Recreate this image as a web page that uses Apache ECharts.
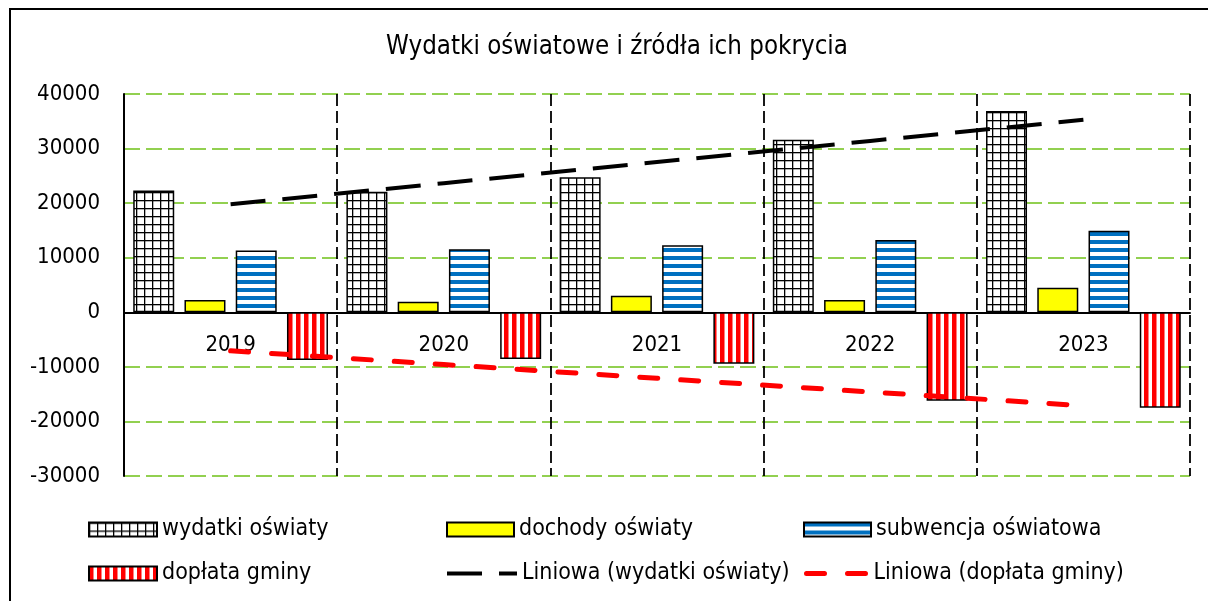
<!DOCTYPE html>
<html>
<head>
<meta charset="utf-8">
<script src="https://cdn.jsdelivr.net/npm/echarts@6/dist/echarts.min.js"></script>
<style>
  html, body { margin: 0; padding: 0; background: #fff; }
  #chart { width: 1208px; height: 601px; }
</style>
</head>
<body>
<div id="chart"></div>
<script>
// Education spending and its funding sources (thousands PLN)
const years = ['2019', '2020', '2021', '2022', '2023'];
const wydatki = [22300, 22100, 24750, 31600, 36900];
const dochody = [2250, 1950, 3050, 2250, 4500];
const subwencja = [11300, 11550, 12300, 13250, 14950];
const doplata = [-8750, -8550, -9450, -16200, -17500];

const FONT = '"DejaVu Sans Condensed", "DejaVu Sans", sans-serif';

// Least-squares linear trendline over category index (1..n)
function linearTrend(values) {
  const n = values.length;
  let sx = 0, sy = 0, sxx = 0, sxy = 0;
  values.forEach((v, i) => {
    const x = i + 1;
    sx += x; sy += v; sxx += x * x; sxy += x * v;
  });
  const b = (n * sxy - sx * sy) / (n * sxx - sx * sx);
  const a = (sy - b * sx) / n;
  return values.map((_, i) => Math.round(a + b * (i + 1)));
}

// Fill patterns for the bars
function makePattern(w, h, draw) {
  const c = document.createElement('canvas');
  c.width = w; c.height = h;
  const ctx = c.getContext('2d');
  ctx.fillStyle = '#ffffff';
  ctx.fillRect(0, 0, w, h);
  draw(ctx);
  return { image: c, repeat: 'repeat' };
}
const gridPattern = makePattern(8, 8, ctx => {
  ctx.fillStyle = '#000000';
  ctx.fillRect(0, 0, 8, 1.3);
  ctx.fillRect(0, 0, 1.3, 8);
});
const hStripePattern = makePattern(8, 8, ctx => {
  ctx.fillStyle = '#0070C0';
  ctx.fillRect(0, 0, 8, 4);
});
const vStripePattern = makePattern(8, 8, ctx => {
  ctx.fillStyle = '#FF0000';
  ctx.fillRect(0, 0, 4.5, 8);
});

const barBorder = { borderColor: '#000000', borderWidth: 1.5 };

const trendBlack = { color: '#000000', width: 4, type: [35, 17] };
const trendRed = { color: '#FF0000', width: 5, type: [18, 23], cap: 'round' };

function legendAt(name, left, top, width, lineStyle) {
  const lg = {
    data: [name],
    left: left,
    top: top,
    padding: 0,
    itemWidth: width,
    itemHeight: 14,
    selectedMode: false,
    textStyle: { fontFamily: FONT, fontSize: 23, color: '#000000' }
  };
  if (lineStyle) {
    lg.itemStyle = { opacity: 0 };
    lg.lineStyle = lineStyle;
  } else {
    lg.icon = 'rect';
  }
  return lg;
}

const chart = echarts.init(document.getElementById('chart'), null, { renderer: 'canvas' });
chart.setOption({
  backgroundColor: '#ffffff',
  animation: false,
  title: {
    text: 'Wydatki oświatowe i źródła ich pokrycia',
    left: 612,
    textAlign: 'center',
    top: 29,
    textStyle: { fontFamily: FONT, fontSize: 25.7, fontWeight: 'normal', color: '#000000' }
  },
  graphic: [{
    type: 'rect',
    shape: { x: 10, y: 9, width: 1240, height: 640 },
    style: { fill: 'none', stroke: '#000000', lineWidth: 2 },
    silent: true
  }],
  legend: [
    legendAt('wydatki oświaty', 88, 518, 68, null),
    legendAt('dochody oświaty', 446, 518, 67, null),
    legendAt('subwencja oświatowa', 803, 518, 67, null),
    legendAt('dopłata gminy', 88, 562, 68, null),
    legendAt('Liniowa (wydatki oświaty)', 445, 562, 70, trendBlack),
    legendAt('Liniowa (dopłata gminy)', 804, 562, 62, trendRed)
  ],
  grid: { left: 124, right: 18, top: 94, bottom: 125, containLabel: false },
  xAxis: [
    {
      type: 'category',
      data: years,
      boundaryGap: true,
      axisLine: { show: true, onZero: true, lineStyle: { color: '#000000', width: 2 } },
      axisTick: { show: false },
      axisLabel: { show: false },
      splitLine: { show: true, lineStyle: { color: '#000000', width: 1.8, type: [12, 5] } }
    },
    {
      // year labels sitting just under the zero line
      type: 'category',
      data: years,
      position: 'bottom',
      offset: -164,
      axisLine: { show: false, onZero: false },
      axisTick: { show: false },
      splitLine: { show: false },
      axisLabel: { margin: 22, fontFamily: FONT, fontSize: 22, color: '#000000' }
    }
  ],
  yAxis: {
    type: 'value',
    min: -30000,
    max: 40000,
    interval: 10000,
    axisLine: { show: true, lineStyle: { color: '#000000', width: 2 } },
    axisTick: { show: false },
    axisLabel: {
      margin: 24, fontFamily: FONT, fontSize: 22, color: '#000000',
      formatter: v => String(v)
    },
    splitLine: { show: true, lineStyle: { color: '#92D050', width: 2, type: [16, 6] } }
  },
  series: [
    {
      name: 'wydatki oświaty', type: 'bar', data: wydatki,
      barWidth: 41, barGap: '25%',
      itemStyle: Object.assign({ color: gridPattern }, barBorder)
    },
    {
      name: 'dochody oświaty', type: 'bar', data: dochody,
      barWidth: 41, barGap: '25%',
      itemStyle: Object.assign({ color: '#FFFF00' }, barBorder)
    },
    {
      name: 'subwencja oświatowa', type: 'bar', data: subwencja,
      barWidth: 41, barGap: '25%',
      itemStyle: Object.assign({ color: hStripePattern }, barBorder)
    },
    {
      name: 'dopłata gminy', type: 'bar', data: doplata,
      barWidth: 41, barGap: '25%',
      itemStyle: Object.assign({ color: vStripePattern }, barBorder)
    },
    {
      name: 'Liniowa (wydatki oświaty)', type: 'line', data: linearTrend(wydatki),
      symbol: 'none', z: 5,
      lineStyle: trendBlack,
      itemStyle: { color: '#000000' }
    },
    {
      name: 'Liniowa (dopłata gminy)', type: 'line', data: linearTrend(doplata),
      symbol: 'none', z: 5,
      lineStyle: trendRed,
      itemStyle: { color: '#FF0000' }
    }
  ]
});
</script>
</body>
</html>
